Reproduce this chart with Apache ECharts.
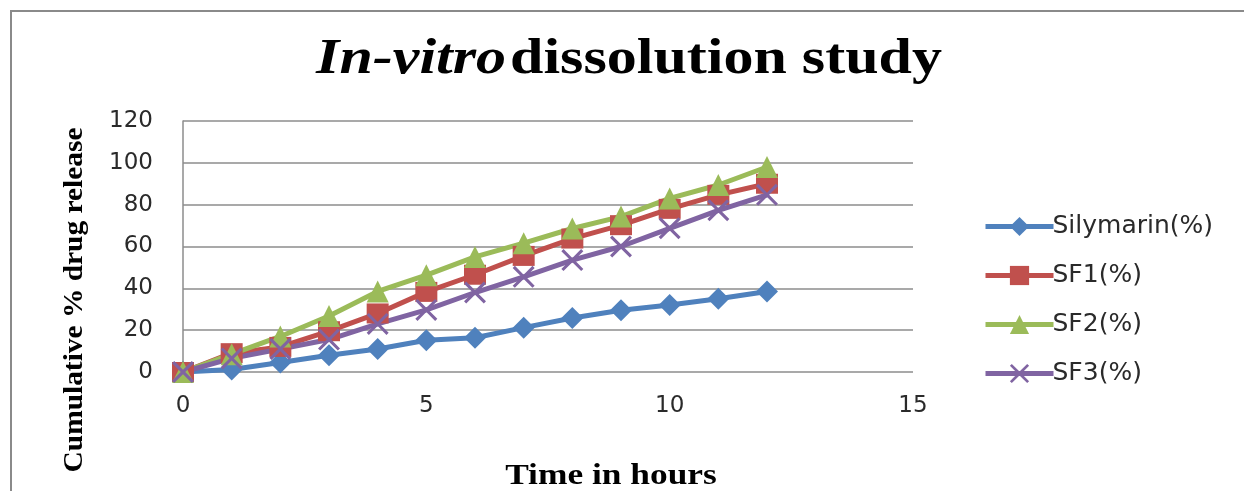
<!DOCTYPE html>
<html>
<head>
<meta charset="utf-8">
<script src="https://cdn.jsdelivr.net/npm/echarts@6/dist/echarts.min.js"></script>
<style>
  html, body { margin: 0; padding: 0; background: #fff; overflow: hidden; }
  #wrap { position: relative; width: 1244px; height: 491px; overflow: hidden; }
  #frame {
    position: absolute; left: 10px; top: 10px; width: 1300px; height: 600px;
    border-left: 2px solid #8a8a8a; border-top: 2px solid #8a8a8a;
  }
  #dissolution-chart { position: absolute; left: 0; top: 0; width: 1244px; height: 491px; }
</style>
</head>
<body>
<div id="wrap">
  <div id="frame"></div>
  <div id="dissolution-chart"></div>
</div>
<script>
// 时间 (hours)
var hours = [0, 1, 2, 3, 4, 5, 6, 7, 8, 9, 10, 11, 12]
// cumulative % drug release per formulation
var silymarin = [0, 1.2, 4.5, 8, 11, 15.2, 16.4, 21.2, 25.8, 29.5, 32, 35, 38.5]
var sf1 = [0, 9, 12, 19.5, 28, 38.3, 46.5, 55.5, 63.8, 70.2, 78, 84.7, 90]
var sf2 = [0, 8.5, 17, 26.8, 38.5, 46.3, 55, 61.6, 68.6, 74.3, 83, 89.4, 98]
var sf3 = [0, 6.5, 11, 15.5, 23, 29.7, 38, 45.5, 53.5, 60, 68.7, 77.3, 84.7]
var seriesNames = ['Silymarin(%)', 'SF1(%)', 'SF2(%)', 'SF3(%)']
var xTicks = [0, 5, 10, 15]
var yTicks = [0, 20, 40, 60, 80, 100, 120]

var echarts = window.echarts
var myChart = echarts.init(document.getElementById('dissolution-chart'))
var colorArr = ['#4F81BD', '#C0504D', '#9BBB59', '#8064A2']
var crossPath = 'path://M0,1L1,0L5,4L9,0L10,1L6,5L10,9L9,10L5,6L1,10L0,9L4,5Z'
var tickFont = 'DejaVu Sans'

function pairs(ys) {
  return hours.map(function (h, i) { return [h, ys[i]] })
}

function makeSeries(name, ys, color, symbol, size) {
  return {
    name: name,
    type: 'line',
    data: pairs(ys),
    symbol: symbol,
    symbolSize: size,
    showSymbol: true,
    lineStyle: { color: color, width: 5 },
    itemStyle: { color: color },
    emphasis: { disabled: true },
    animation: false
  }
}

var option = {
  color: colorArr,
  legend: {
    orient: 'vertical',
    left: 978,
    top: 209,
    itemWidth: 68,
    itemHeight: 24,
    itemGap: 24,
    data: seriesNames,
    lineStyle: { width: 5 },
    textStyle: { fontFamily: tickFont, fontSize: 25, lineHeight: 24, color: '#2a2a2a', padding: [0, 0, 0, -6] }
  },
  grid: {
    left: 183,
    right: 331,
    top: 121,
    bottom: 119,
    containLabel: false
  },
  xAxis: {
    type: 'value',
    min: xTicks[0],
    max: xTicks[xTicks.length - 1],
    interval: 5,
    axisLine: { show: false },
    axisTick: { show: false },
    splitLine: { show: false },
    axisLabel: { fontFamily: tickFont, fontSize: 23, color: '#2a2a2a', margin: 23 }
  },
  yAxis: {
    type: 'value',
    min: yTicks[0],
    max: yTicks[yTicks.length - 1],
    interval: 20,
    axisLine: { show: true, lineStyle: { color: '#8c8c8c', width: 1.5 } },
    axisTick: { show: false },
    splitLine: { show: true, lineStyle: { color: '#8c8c8c', width: 1.5 } },
    axisLabel: { fontFamily: tickFont, fontSize: 23, color: '#2a2a2a', margin: 30 }
  },
  graphic: [
    {
      // 标题
      type: 'text',
      x: 629,
      y: 60,
      scaleX: 1.2,
      style: {
        text: '{i|In-vitro} {b|dissolution study}',
        align: 'center',
        verticalAlign: 'middle',
        rich: {
          i: { fontFamily: 'Liberation Serif', fontStyle: 'italic', fontWeight: 'bold', fontSize: 50, fill: '#000' },
          b: { fontFamily: 'Liberation Serif', fontWeight: 'bold', fontSize: 50, fill: '#000' }
        }
      }
    },
    {
      type: 'text',
      x: 75,
      y: 300,
      rotation: Math.PI / 2,
      scaleX: 1.05,
      style: {
        text: 'Cumulative % drug release',
        fontFamily: 'Liberation Serif',
        fontWeight: 'bold',
        fontSize: 28,
        fill: '#000',
        align: 'center',
        verticalAlign: 'middle'
      }
    },
    {
      type: 'text',
      x: 611,
      y: 477,
      scaleX: 1.22,
      style: {
        text: 'Time in hours',
        fontFamily: 'Liberation Serif',
        fontWeight: 'bold',
        fontSize: 29,
        fill: '#000',
        align: 'center',
        verticalAlign: 'middle'
      }
    }
  ],
  series: [
    makeSeries(seriesNames[0], silymarin, colorArr[0], 'diamond', [22, 22]),
    makeSeries(seriesNames[1], sf1, colorArr[1], 'rect', [22, 20]),
    makeSeries(seriesNames[2], sf2, colorArr[2], 'triangle', [22, 22]),
    makeSeries(seriesNames[3], sf3, colorArr[3], crossPath, [22, 22])
  ]
}
myChart.setOption(option)
</script>
</body>
</html>
